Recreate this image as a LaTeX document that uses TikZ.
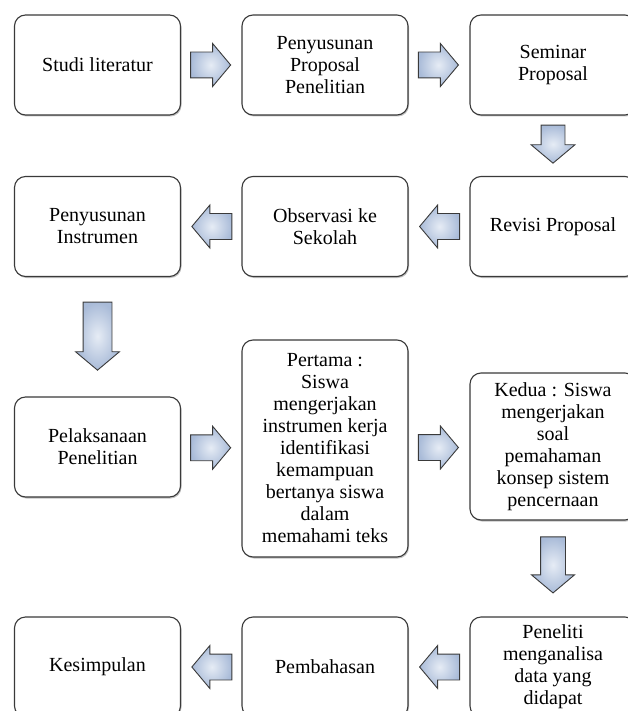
\documentclass[tikz,border=0pt]{standalone}
\usepackage{fontspec}
\setmainfont{Liberation Serif}
\usetikzlibrary{shapes.arrows,shadows,calc}
\definecolor{ArrowBlue}{HTML}{A9BBD8}
\definecolor{ArrowLight}{HTML}{E6ECF5}
\definecolor{BoxLine}{HTML}{3A3A3A}

\begin{document}
\begin{tikzpicture}[x=1pt, y=-1pt,
  box/.style={draw=BoxLine, line width=1.1pt, rounded corners=11pt, fill=white,
    minimum width=166pt, minimum height=100pt, align=center, inner sep=2pt,
    font=\fontsize{20}{22}\selectfont,
    drop shadow={shadow xshift=1pt, shadow yshift=-1.5pt, fill=black!40, opacity=0.6}},
  flow/.style={single arrow, draw=BoxLine, line width=0.9pt, inner xsep=0pt, inner ysep=12.5pt,
    single arrow head extend=8.5pt, single arrow tip angle=100, anchor=tip,
    inner color=ArrowLight, outer color=ArrowBlue}]
  \useasboundingbox (0,0) rectangle (627,711);

  \node[box] (studi) at (97.5,65) {Studi literatur};
  \node[box] (proposal) at (325,65) {Penyusunan\\Proposal\\Penelitian};
  \node[box] (seminar) at (553,65) {Seminar\\Proposal};
  \node[box] (revisi) at (553,226.5) {Revisi Proposal};
  \node[box] (observasi) at (325,226.5) {Observasi ke\\Sekolah};
  \node[box] (instrumen) at (97.5,226.5) {Penyusunan\\Instrumen};
  \node[box] (pelaksanaan) at (97.5,447) {Pelaksanaan\\Penelitian};
  \node[box, minimum height=217pt] (pertama) at (325,448.5)
    {Pertama :\\Siswa\\mengerjakan\\instrumen kerja\\identifikasi\\kemampuan\\bertanya siswa\\dalam\\memahami teks};
  \node[box, minimum height=147pt] (kedua) at (553,446.5)
    {Kedua : Siswa\\mengerjakan\\soal\\pemahaman\\konsep sistem\\pencernaan};
  \node[box] (analisa) at (553,667) {Peneliti\\menganalisa\\data yang\\didapat};
  \node[box] (pembahasan) at (325,667) {Pembahasan};
  \node[box] (kesimpulan) at (97.5,667) {Kesimpulan};

  \foreach \a/\b in {studi/proposal, proposal/seminar, pelaksanaan/pertama, pertama/kedua}
    \node[flow, minimum height=40pt] (to-\b) at ($(\a.east)!0.5!(\b.west)+(20,0)$) {};
  \foreach \a/\b in {revisi/observasi, observasi/instrumen, analisa/pembahasan, pembahasan/kesimpulan}
    \node[flow, minimum height=40pt, rotate=180] (to-\b) at ($(\a.west)!0.5!(\b.east)+(-20,0)$) {};
  \node[flow, minimum height=38pt, inner ysep=11.5pt, single arrow head extend=10pt, rotate=-90]
    (to-revisi) at ($(seminar.south)!0.5!(revisi.north)+(0,18)$) {};
  \node[flow, minimum height=68pt, inner ysep=14pt, single arrow head extend=7.5pt, rotate=-90]
    (to-pelaksanaan) at ($(instrumen.south)!0.5!(pelaksanaan.north)+(0,34)$) {};
  \node[flow, minimum height=56pt, inner ysep=12pt, single arrow head extend=9pt, rotate=-90]
    (to-analisa) at ($(kedua.south)!0.5!(analisa.north)+(0,25)$) {};
\end{tikzpicture}
\end{document}
